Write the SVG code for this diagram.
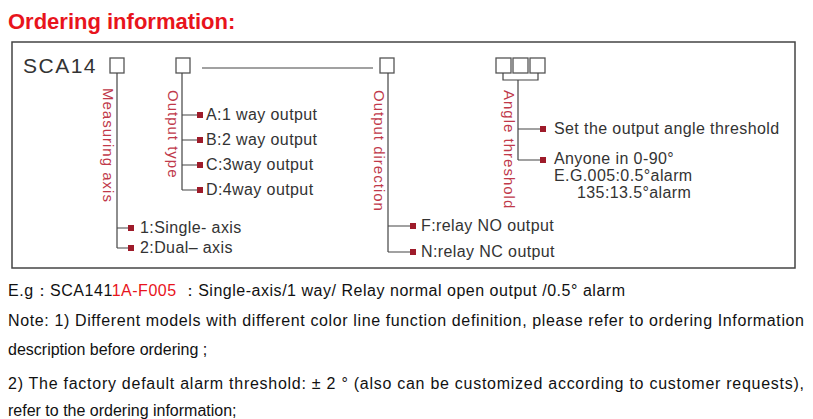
<svg xmlns="http://www.w3.org/2000/svg" width="813" height="419" viewBox="0 0 813 419">
<style>
.t{font-family:"Liberation Sans",Arial,sans-serif;fill:#333;font-size:16px;letter-spacing:0.4px}
.v{font-family:"Liberation Sans",Arial,sans-serif;fill:#c0394a;font-size:15px;letter-spacing:1px}
.b{fill:#fff;stroke:#555;stroke-width:1.3}
.l{fill:none;stroke:#444;stroke-width:1.2}
.m{fill:#9e1b2a}
.n{font-family:"Liberation Sans",Arial,sans-serif;fill:#111;font-size:16px}
</style>
<rect width="813" height="419" fill="#fff"/>
<text x="8" y="29" font-family="Liberation Sans,Arial,sans-serif" font-weight="bold" font-size="22" fill="#e8141c">Ordering information:</text>
<rect x="12" y="42" width="783" height="226" fill="none" stroke="#444" stroke-width="1.5"/>
<g id="code">
<text x="23" y="73" class="t" style="font-size:21px;letter-spacing:1.5px">SCA14</text>
<rect class="b" x="110" y="58" width="14" height="15"/>
<rect class="b" x="176" y="58" width="14" height="15"/>
<rect class="b" x="380" y="58" width="14" height="15"/>
<rect class="b" x="496" y="58" width="15" height="15"/>
<rect class="b" x="513" y="58" width="15" height="15"/>
<rect class="b" x="530" y="58" width="15" height="15"/>
</g>
<g id="connectors">
<path class="l" d="M202 68H373"/>
<path class="l" d="M117 73V248M117 228H128M117 248H128"/>
<path class="l" d="M182 73V190M182 115H197M182 140H197M182 165H197M182 190H197"/>
<path class="l" d="M388 73V252M388 226H410M388 252H410"/>
<path class="l" d="M503 73V80H538V73M518 80V160M518 129H540M518 160H540"/>
</g>
<g class="m">
<rect x="128" y="225" width="6" height="6"/><rect x="128" y="245" width="6" height="6"/>
<rect x="197" y="112" width="6" height="6"/><rect x="197" y="137" width="6" height="6"/><rect x="197" y="162" width="6" height="6"/><rect x="197" y="187" width="6" height="6"/>
<rect x="410" y="223" width="6" height="6"/><rect x="410" y="249" width="6" height="6"/>
<rect x="540" y="126" width="6" height="6"/><rect x="540" y="157" width="6" height="6"/>
</g>
<g id="axis">
<text class="v" transform="translate(103,88) rotate(90)">Measuring axis</text>
<text class="t" x="140" y="233">1:Single- axis</text>
<text class="t" x="140" y="253">2:Dual– axis</text>
</g>
<g id="type">
<text class="v" transform="translate(168,90) rotate(90)">Output type</text>
<text class="t" x="206" y="120">A:1 way output</text>
<text class="t" x="206" y="145">B:2 way output</text>
<text class="t" x="206" y="170">C:3way output</text>
<text class="t" x="206" y="195">D:4way output</text>
</g>
<g id="direction">
<text class="v" transform="translate(374,90) rotate(90)">Output direction</text>
<text class="t" x="421" y="231">F:relay  NO  output</text>
<text class="t" x="421" y="257">N:relay NC output</text>
</g>
<g id="threshold">
<text class="v" transform="translate(504,90) rotate(90)">Angle threshold</text>
<text class="t" x="554" y="134">Set the output angle threshold</text>
<text class="t" x="554" y="164">Anyone in 0-90°</text>
<text class="t" x="554" y="181">E.G.005:0.5°alarm</text>
<text class="t" x="577" y="198">135:13.5°alarm</text>
</g>
<text class="n" x="8" y="296" textLength="617">E.g：SCA141<tspan fill="#e8141c">1A-F005</tspan>  ：Single-axis/1 way/ Relay normal open output /0.5° alarm</text>
<text class="n" x="8" y="326" textLength="796">Note: 1) Different models with different color line function definition, please refer to ordering Information</text>
<text class="n" x="8" y="355">description before ordering ;</text>
<text class="n" x="8" y="389" textLength="796">2) The factory default alarm threshold: ± 2 ° (also can be customized according to customer requests),</text>
<text class="n" x="8" y="416">refer to the ordering information;</text>
</svg>
